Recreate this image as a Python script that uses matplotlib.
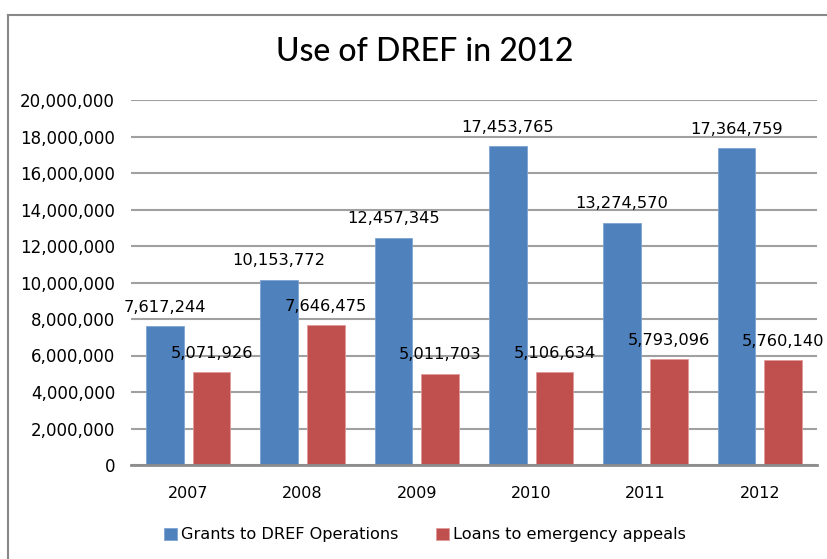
import matplotlib.pyplot as plt
from matplotlib.lines import Line2D
import numpy as np

# data
years = ["2007", "2008", "2009", "2010", "2011", "2012"]
grants = [7617244, 10153772, 12457345, 17453765, 13274570, 17364759]
loans = [5071926, 7646475, 5011703, 5106634, 5793096, 5760140]
yticks = list(range(0, 20000001, 2000000))

blue = "#4F81BD"
red = "#C0504D"

fig = plt.figure(figsize=(8.28, 5.59), dpi=100)
ax = fig.add_axes([131/828, 1 - 465/559, (817 - 131)/828, (465 - 100)/559])

x = np.arange(len(years))
w = 0.33
off = 0.205
b1 = ax.bar(x - off, grants, w, color=blue, edgecolor="#7fa3d3", linewidth=0.6, zorder=3,
            label="Grants to DREF Operations")
b2 = ax.bar(x + off, loans, w, color=red, edgecolor="#e09a98", linewidth=0.6, zorder=3,
            label="Loans to emergency appeals")

# etiketler
for bars, vals in [(b1, grants), (b2, loans)]:
    for r, v in zip(bars, vals):
        ax.annotate(f"{v:,}", (r.get_x() + r.get_width()/2, v), xytext=(0, 13.5),
                    textcoords="offset points", ha="center", va="center",
                    fontsize=11.7, color="black", clip_on=False, zorder=5)

ax.set_xlim(-0.5, 5.5)
ax.set_ylim(0, 20000000)
ax.set_yticks(yticks)
ax.set_yticklabels([f"{t:,}" for t in yticks], fontsize=12)
ax.set_xticks(x)
ax.set_xticklabels(years, fontsize=11.5)
ax.tick_params(axis="both", length=0)
ax.tick_params(axis="y", pad=11.5)
ax.tick_params(axis="x", pad=15)
ax.yaxis.grid(True, color="#a0a0a0", linewidth=1.5, zorder=0)
ax.set_axisbelow(True)
for s in ["top", "right", "left"]:
    ax.spines[s].set_visible(False)
ax.spines["bottom"].set_color("#8c8c8c")
ax.spines["bottom"].set_linewidth(2)
ax.spines["bottom"].set_zorder(4)

fig.text(425/828, 1 - 52/559, "Use of DREF in 2012", ha="center", va="center",
         fontsize=23, family="Lato", weight="medium")

fig.legend(handles=[b1, b2], loc="center", bbox_to_anchor=(425/828, 1 - 535/559),
           ncol=2, frameon=False, fontsize=11.6, handlelength=0.8, handleheight=0.8,
           handletextpad=0.25, columnspacing=2.3)

# çerçeve
fig.add_artist(Line2D([8/828, 1.01], [1 - 14.5/559, 1 - 14.5/559], color="#888888", lw=1.5))
fig.add_artist(Line2D([8/828, 8/828], [-0.01, 1 - 14.5/559], color="#888888", lw=1.5))

fig.savefig("out.png", dpi=100)
